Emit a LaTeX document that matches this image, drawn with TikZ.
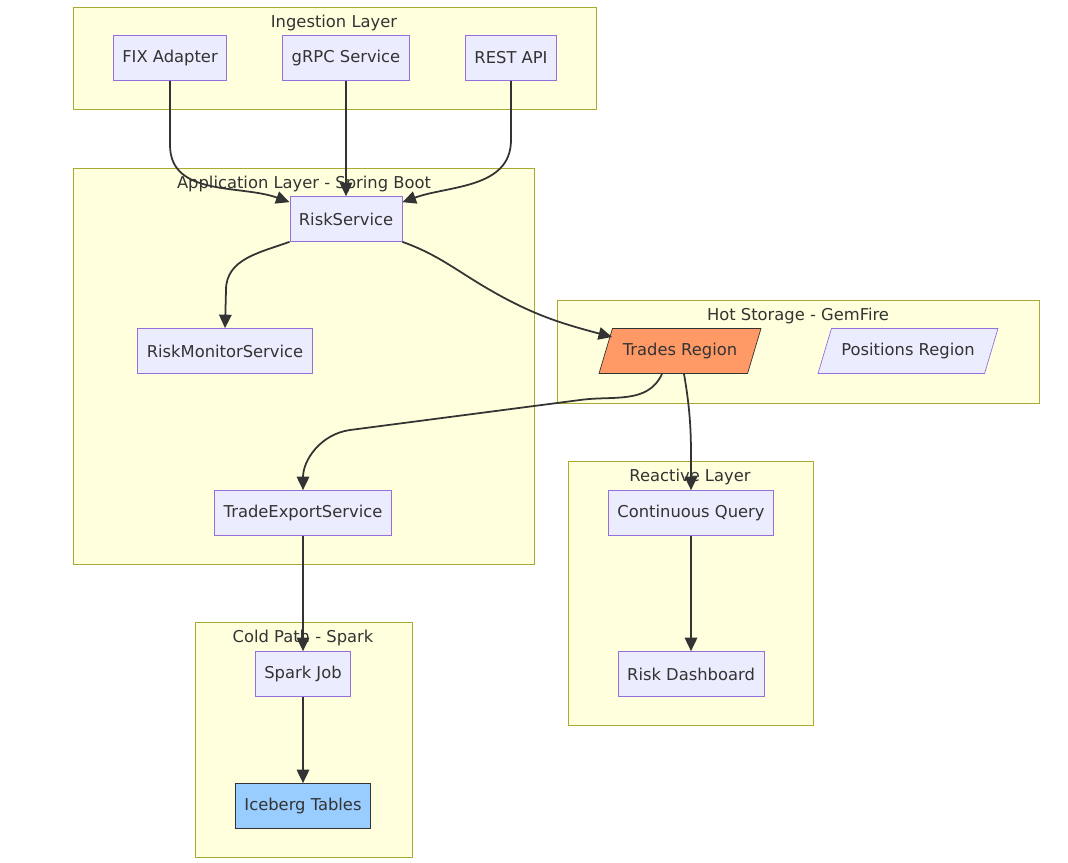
\documentclass[tikz,border=0pt]{standalone}
\usepackage{fontspec}
\setmainfont{DejaVu Sans}
\usetikzlibrary{positioning, shapes.geometric, arrows.meta}
\definecolor{boxfill}{HTML}{ECECFF}
\definecolor{boxline}{HTML}{9370DB}
\definecolor{grpfill}{HTML}{FFFFDE}
\definecolor{grpline}{HTML}{AAAA33}
\definecolor{edge}{HTML}{333333}
\tikzset{
    svc/.style={rectangle, draw=boxline, fill=boxfill, minimum height=0.9cm, inner xsep=0.18cm, font=\fontsize{9.3}{11}\selectfont, text=edge},
    region/.style={trapezium, trapezium left angle=64, trapezium right angle=116, trapezium stretches body, draw=boxline, fill=boxfill, minimum height=0.9cm, inner xsep=0cm, font=\fontsize{9.3}{11}\selectfont, text=edge},
    group/.style={draw=grpline, fill=grpfill},
    grouplabel/.style={font=\fontsize{9.3}{11}\selectfont, text=edge, anchor=north},
    flow/.style={draw=edge, line width=1pt, -{Triangle[length=0.27cm,width=0.25cm]}}
}
\begin{document}
\begin{tikzpicture}[x=0.02cm, y=-0.02cm]
\useasboundingbox (0,0) rectangle (1068,862);

% subgraphs
\draw[group] (73,7) rectangle (596,109);
\node[grouplabel] (lIngest) at (334,9) {Ingestion Layer};
\draw[group] (73,168) rectangle (534,564);
\node[grouplabel] (lApp) at (304,170) {Application Layer - Spring Boot};
\draw[group] (557,300) rectangle (1039,403);
\node[grouplabel] (lHot) at (798,302) {Hot Storage - GemFire};
\draw[group] (568,461) rectangle (813,725);
\node[grouplabel] (lReact) at (690,463) {Reactive Layer};
\draw[group] (195,622) rectangle (412,857);
\node[grouplabel] (lCold) at (303,624) {Cold Path - Spark};

% nodes
\node[svc] (fix) at (170,58) {FIX Adapter};
\node[svc] (grpc) at (346,58) {gRPC Service};
\node[svc] (rest) at (511,58) {REST API};
\node[svc] (rs) at (346,219) {RiskService};
\node[svc] (rmon) at (225,351) {RiskMonitorService};
\node[region, minimum width=3.24cm, fill={rgb,255:red,255;green,153;blue,102}, draw=edge] (trades) at (680,351) {Trades Region};
\node[region, minimum width=3.6cm] (pos) at (908,351) {Positions Region};
\node[svc] (tes) at (303,513) {TradeExportService};
\node[svc] (cq) at (691,513) {Continuous Query};
\node[svc] (dash) at (691,674) {Risk Dashboard};
\node[svc] (spark) at (303,674) {Spark Job};
\node[svc, fill={rgb,255:red,153;green,204;blue,255}, draw=edge] (ice) at (303,806) {Iceberg Tables};

% edges
\draw[flow] (fix.south) -- (170,145) to[out=-90,in=160] ([yshift=-0.12cm]rs.north west);
\draw[flow] (grpc) -- (rs);
\draw[flow] (rest.south) -- (511,140) to[out=-90,in=20] ([yshift=-0.12cm]rs.north east);
\draw[flow] (rs.south west) to[out=200,in=90] (226,290) -- (rmon.north);
\draw[flow] (rs.south east) to[out=-20,in=150] (490,290) to[out=-30,in=165] (612,337);
\draw[flow] (662,374) to[out=-115,in=8] (580,400) -- (350,430) to[out=188,in=90] (tes.north);
\draw[flow] (684,374) to[out=-80,in=90] (cq.north);
\draw[flow] (tes) -- (spark);
\draw[flow] (spark) -- (ice);
\draw[flow] (cq) -- (dash);
\end{tikzpicture}
\end{document}
